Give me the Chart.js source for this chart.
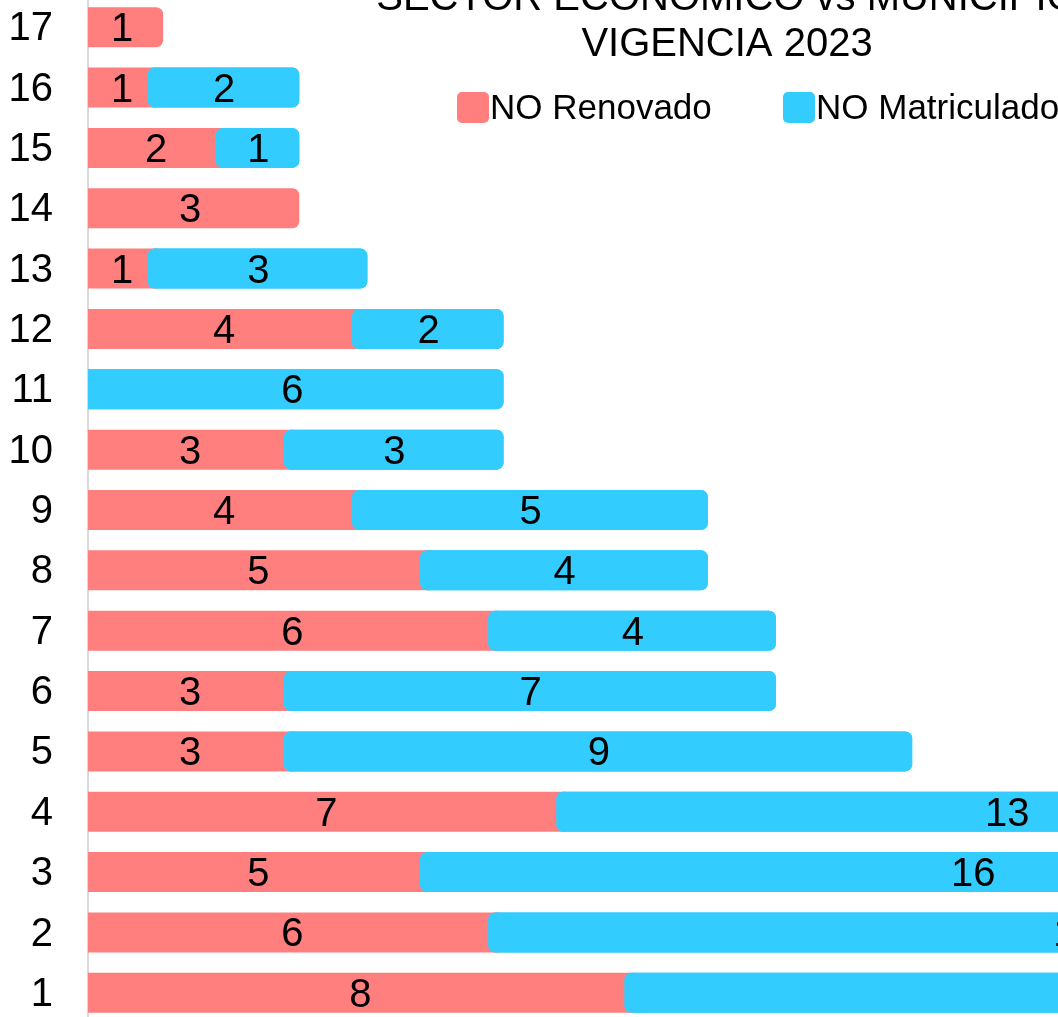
<!DOCTYPE html>
<html>
<head>
<meta charset="utf-8">
<script src="https://cdn.jsdelivr.net/npm/chart.js@4.4.1/dist/chart.umd.min.js"></script>
<style>
html,body{margin:0;padding:0;width:1058px;height:1017px;overflow:hidden;background:#ffffff;}
#wrap{position:absolute;left:0;top:-50px;}
canvas{display:block;}
</style>
</head>
<body>
<div id="wrap"><canvas id="c" width="2140" height="1100" style="width:2140px;height:1100px"></canvas></div>
<script>
// ---- data ----
const categories = ['1','2','3','4','5','6','7','8','9','10','11','12','13','14','15','16','17'];
const noRenovado = [8, 6, 5, 7, 3, 3, 6, 5, 4, 3, 0, 4, 1, 3, 2, 1, 1];
const noMatriculado = [20, 17, 16, 13, 9, 7, 4, 4, 5, 3, 6, 2, 3, 0, 1, 2, 0];
const seriesNames = ['NO Renovado', 'NO Matriculado'];
const titleLines = ['SECTOR ECONÓMICO vs MUNICIPIO', 'VIGENCIA 2023'];
const xMax = 30;

// ---- style ----
const FONT = "'Liberation Sans', Arial, sans-serif";
const colors = ['#FF7F7F', '#33CCFF'];
const R = 7;
const EXT_END = 7;
const EXT_START = 8.5;
Chart.defaults.font.family = FONT;

const seriesData = [noRenovado, noMatriculado];

const extendPlugin = {
  id: 'extendBars',
  afterDatasetsUpdate(chart) {
    seriesData.forEach((arr, di) => {
      const meta = chart.getDatasetMeta(di);
      meta.data.forEach((el, i) => {
        const v = arr[i];
        el._cx = (el.x + el.base) / 2;
        if (!v) { el.x = el.base; return; }
        el.x = el.x + EXT_END;
        if (di === 1 && noRenovado[i]) el.base = el.base - EXT_START;
      });
    });
  },
  afterDatasetsDraw(chart) {
    const ctx = chart.ctx;
    const a = chart.chartArea;
    // blue segments drawn over the red ones
    ctx.save();
    ctx.beginPath();
    ctx.rect(a.left, a.top, a.right - a.left, a.bottom - a.top);
    ctx.clip();
    chart.getDatasetMeta(1).controller.draw();
    ctx.restore();
    // value labels
    ctx.save();
    ctx.font = '40px ' + FONT;
    ctx.fillStyle = '#000000';
    ctx.textAlign = 'center';
    ctx.textBaseline = 'alphabetic';
    seriesData.forEach((arr, di) => {
      const meta = chart.getDatasetMeta(di);
      meta.data.forEach((el, i) => {
        if (!arr[i]) return;
        ctx.fillText(String(arr[i]), el._cx, el.y + 14);
      });
    });
    ctx.restore();
  },
  afterDraw(chart) {
    const ctx = chart.ctx;
    ctx.save();
    // title
    ctx.fillStyle = '#000000';
    ctx.textAlign = 'center';
    ctx.textBaseline = 'alphabetic';
    ctx.font = '40px ' + FONT;
    ctx.fillText(titleLines[0], 727, 60);
    ctx.fillText(titleLines[1], 727, 106);
    // legend
    const items = [{x: 457}, {x: 783}];
    ctx.font = '35px ' + FONT;
    ctx.textAlign = 'left';
    items.forEach((it, k) => {
      ctx.fillStyle = colors[k];
      ctx.beginPath();
      ctx.roundRect(it.x, 142, 32, 31, 5);
      ctx.fill();
      ctx.fillStyle = '#000000';
      ctx.fillText(seriesNames[k], it.x + 33, 169);
    });
    ctx.restore();
  }
};

new Chart(document.getElementById('c'), {
  type: 'bar',
  data: {
    labels: categories,
    datasets: [
      {
        label: seriesNames[0],
        data: noRenovado,
        backgroundColor: colors[0],
        borderWidth: 0,
        borderSkipped: false,
        borderRadius: {topLeft: 0, bottomLeft: 0, topRight: R, bottomRight: R}
      },
      {
        label: seriesNames[1],
        data: noMatriculado,
        backgroundColor: colors[1],
        borderWidth: 0,
        borderSkipped: false,
        borderRadius: (ctx) => noRenovado[ctx.dataIndex]
          ? {topLeft: R, bottomLeft: R, topRight: R, bottomRight: R}
          : {topLeft: 0, bottomLeft: 0, topRight: R, bottomRight: R}
      }
    ]
  },
  options: {
    indexAxis: 'y',
    responsive: false,
    animation: false,
    events: [],
    categoryPercentage: 1,
    barPercentage: 0.663,
    layout: {padding: {left: 0, top: 47, right: 9, bottom: 27}},
    plugins: {legend: {display: false}, title: {display: false}, tooltip: {enabled: false}},
    scales: {
      x: {stacked: true, min: 0, max: xMax, display: false},
      y: {
        stacked: true,
        reverse: true,
        grid: {display: false, drawTicks: false},
        border: {display: true, color: '#d9d9d9', width: 2},
        ticks: {color: '#000000', font: {size: 40, family: FONT}, padding: 35, labelOffset: 2},
        afterFit(s) { s.width = 88; s.paddingTop = 0; s.paddingBottom = 0; }
      }
    }
  },
  plugins: [extendPlugin]
});
</script>
</body>
</html>
